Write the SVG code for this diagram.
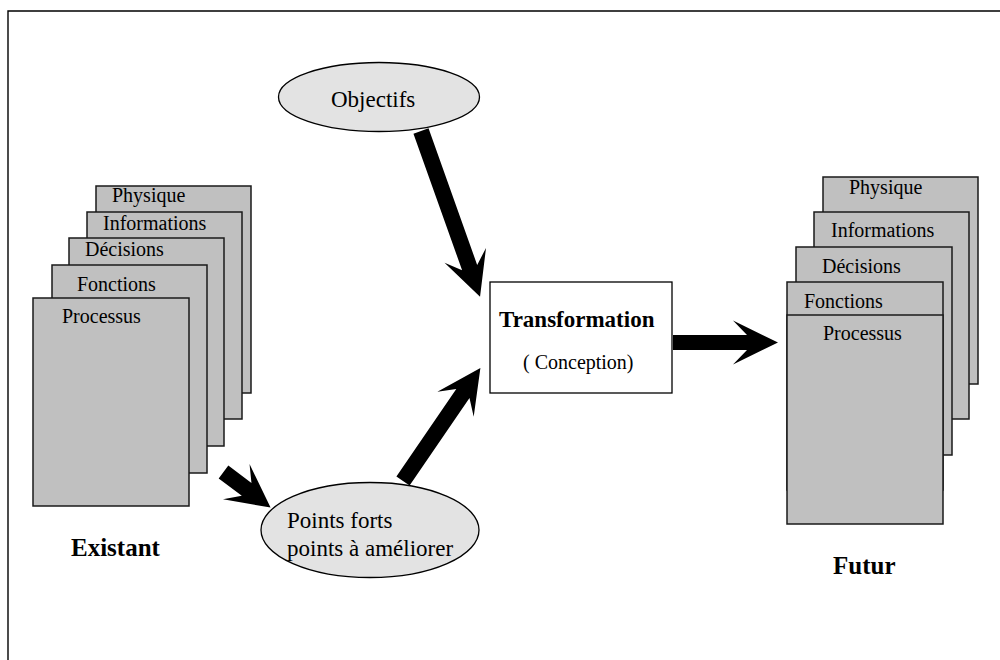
<svg xmlns="http://www.w3.org/2000/svg" width="1000" height="660" viewBox="0 0 1000 660">
  <style>
    .page { fill: #c0c0c0; stroke: #1a1a1a; stroke-width: 1.5; }
    .oval { fill: #e3e3e3; stroke: #000; stroke-width: 1.3; }
    .box { fill: #fff; stroke: #000; stroke-width: 1.3; }
    .lbl { font-family: "Liberation Serif", "Times New Roman", serif; font-size: 20px; fill: #000; }
    .big { font-family: "Liberation Serif", "Times New Roman", serif; font-size: 23px; fill: #000; }
    .bold { font-family: "Liberation Serif", "Times New Roman", serif; font-weight: bold; fill: #000; }
    .arrow { fill: #000; stroke: none; }
  </style>

  <!-- outer frame (left and top edges) -->
  <path d="M8,660 V11 H1000" fill="none" stroke="#000" stroke-width="1.4"/>

  <!-- current state: stacked layers -->
  <g id="existant">
    <rect class="page" x="96" y="186" width="155" height="207"/>
    <text class="lbl" x="112" y="202">Physique</text>
    <rect class="page" x="87" y="212" width="155" height="207"/>
    <text class="lbl" x="103" y="230">Informations</text>
    <rect class="page" x="69" y="238" width="155" height="208"/>
    <text class="lbl" x="85" y="256">Décisions</text>
    <rect class="page" x="52" y="265" width="155" height="208"/>
    <text class="lbl" x="77" y="291">Fonctions</text>
    <rect class="page" x="33" y="298" width="156" height="208"/>
    <text class="lbl" x="62" y="323">Processus</text>
    <text class="bold" x="71" y="556" font-size="25">Existant</text>
  </g>

  <!-- future state: stacked layers -->
  <g id="futur">
    <rect class="page" x="823" y="177" width="155" height="207"/>
    <text class="lbl" x="849" y="194">Physique</text>
    <rect class="page" x="814" y="212" width="155" height="207"/>
    <text class="lbl" x="831" y="237">Informations</text>
    <rect class="page" x="796" y="247" width="156" height="208"/>
    <text class="lbl" x="822" y="273">Décisions</text>
    <rect class="page" x="787" y="282" width="156" height="208"/>
    <text class="lbl" x="804" y="308">Fonctions</text>
    <rect class="page" x="787" y="315" width="156" height="209"/>
    <text class="lbl" x="823" y="340">Processus</text>
    <text class="bold" x="833" y="574" font-size="25">Futur</text>
  </g>

  <g id="objectifs">
    <ellipse class="oval" cx="379" cy="97" rx="100.5" ry="34.5"/>
    <text class="big" x="331" y="107" font-size="22">Objectifs</text>
  </g>

  <g id="points">
    <ellipse class="oval" cx="370" cy="530" rx="109" ry="47.5"/>
    <text class="big" x="287" y="528">Points forts</text>
    <text class="big" x="287" y="556">points à améliorer</text>
  </g>

  <g id="transformation">
    <rect class="box" x="490" y="282" width="182" height="111"/>
    <text class="bold" x="499" y="327" font-size="23">Transformation</text>
    <text class="lbl" x="523" y="369" font-size="19">( Conception)</text>
  </g>

  <!-- block arrows, drawn along +x then placed -->
  <g id="connectors" class="arrow">
    <path transform="translate(421,131) rotate(70.4)" d="M0,-8 L145,-8 L132,-22 L176,0 L132,22 L145,8 L0,8 Z"/>
    <path transform="translate(403,481) rotate(-55.6)" d="M0,-8 L106,-8 L93,-22 L137,0 L93,22 L106,8 L0,8 Z"/>
    <path transform="translate(673,342.5)" d="M0,-7.5 L74,-7.5 L60,-22 L105,0 L60,22 L74,7.5 L0,7.5 Z"/>
    <path transform="translate(223.5,472) rotate(37.1)" d="M0,-8 L29,-8 L16,-22 L59,0 L16,22 L29,8 L0,8 Z"/>
  </g>
</svg>
